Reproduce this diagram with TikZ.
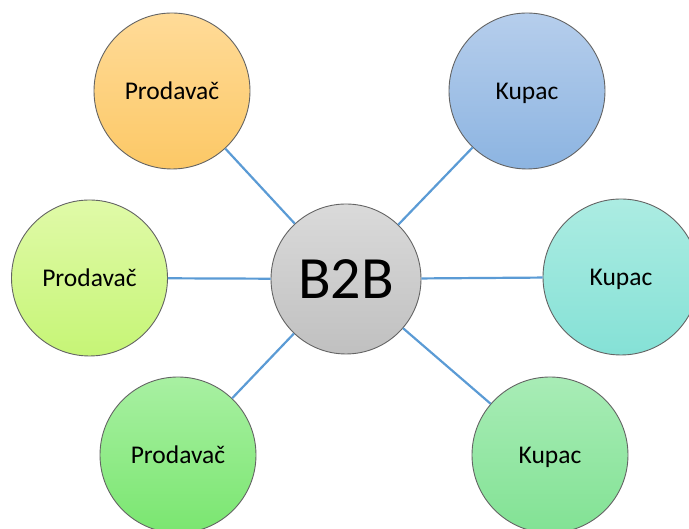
\documentclass[tikz,border=0pt]{standalone}
\usepackage{fontspec}
\setmainfont{Carlito}
\definecolor{linkblue}{RGB}{91,155,213}
\definecolor{rimgray}{RGB}{100,100,100}
\begin{document}
\begin{tikzpicture}[x=1pt,y=1pt,
  bubble/.style={circle, draw=rimgray, line width=0.9pt, minimum size=156pt, inner sep=0pt, text height=16.4pt, text depth=0pt, font=\fontsize{25.5}{30}\selectfont},
  link/.style={draw=linkblue, line width=2.2pt}]
\useasboundingbox (0,0) rectangle (689,529);
\node[bubble, top color={rgb,255:red,255;green,219;blue,152}, bottom color={rgb,255:red,252;green,200;blue,102}] (tl) at (172,438) {Prodavač};
\node[bubble, top color={rgb,255:red,224;green,250;blue,168}, bottom color={rgb,255:red,198;green,245;blue,118}] (ml) at (89.5,251) {Prodavač};
\node[bubble, top color={rgb,255:red,168;green,240;blue,162}, bottom color={rgb,255:red,122;green,230;blue,112}] (bl) at (178,74) {Prodavač};
\node[bubble, top color={rgb,255:red,182;green,206;blue,236}, bottom color={rgb,255:red,140;green,180;blue,225}] (tr) at (527,438) {Kupac};
\node[bubble, top color={rgb,255:red,172;green,236;blue,226}, bottom color={rgb,255:red,133;green,225;blue,214}] (mr) at (621,252) {Kupac};
\node[bubble, top color={rgb,255:red,168;green,236;blue,182}, bottom color={rgb,255:red,130;green,226;blue,148}] (br) at (550,74) {Kupac};
\node[bubble, minimum size=150pt, text height=38.6pt, top color={rgb,255:red,218;green,218;blue,218}, bottom color={rgb,255:red,192;green,192;blue,192}, font=\fontsize{60}{66}\selectfont] (c) at (346,250) {B2B};
\foreach \n in {tl,ml,bl,tr,mr,br} \draw[link] (c) -- (\n);
\end{tikzpicture}
\end{document}
